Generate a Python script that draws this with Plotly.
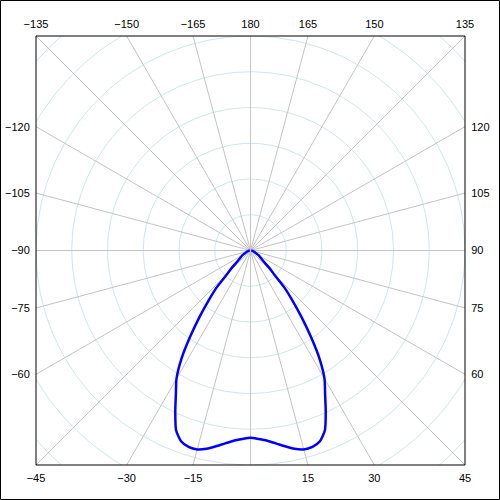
import numpy as np
import plotly.graph_objects as go

# C-plane angles (deg, 0 = straight down) and luminous intensity (cd/klm)
C_ANGLES = [-90, -85, -80, -75, -70, -65, -60, -55, -50, -47.5, -45, -42.5, -40, -37.5,
            -35, -32.5, -30, -27.5, -25, -22.5, -20, -17.5, -15, -12.5, -10, -7.5, -5, -2.5,
            0, 2.5, 5, 7.5, 10, 12.5, 15, 17.5, 20, 22.5, 25, 27.5, 30, 32.5, 35, 37.5,
            40, 42.5, 45, 47.5, 50, 55, 60, 65, 70, 75, 80, 85, 90]
INTENSITY = [1, 2, 3, 4, 6, 8, 13, 17, 24, 34, 45, 70, 91, 117,
             147, 180, 207, 226, 249, 272, 284, 288, 288, 284, 278, 272, 267, 264,
             262, 264, 267, 272, 278, 284, 288, 288, 284, 272, 249, 226, 207, 180, 147, 117,
             91, 70, 45, 34, 24, 17, 13, 8, 6, 4, 3, 2, 1]

RINGS = [50, 100, 150, 200, 250, 300, 350, 400]
SPOKES = list(range(-180, 180, 15))
HALF = 300

BOTTOM_TICKS = [-45, -30, -15, 0, 15, 30, 45]
TOP_TICKS = [-135, -150, -165, 180, 165, 150, 135]
LEFT_TICKS = [-120, -105, -90, -75, -60]
RIGHT_TICKS = [120, 105, 90, 75, 60]

SPOKE_COLOR = "#c4c4c4"
RING_COLOR = "#cfe6ec"
CURVE_COLOR = "#0000ff"


def to_xy(r, deg):
    t = np.radians(deg)
    return r * np.sin(t), -r * np.cos(t)


def lbl(v, skip=()):
    return "" if v in skip else str(v).replace("-", "\u2212")


fig = go.Figure()

# rings
phi = np.linspace(0, 360, 361)
for r in RINGS:
    x, y = to_xy(r, phi)
    fig.add_trace(go.Scatter(x=x, y=y, mode="lines", hoverinfo="skip",
                             line=dict(color=RING_COLOR, width=1), showlegend=False))

# spokes
for a in SPOKES:
    x, y = to_xy(np.array([0, 2 * HALF]), a)
    fig.add_trace(go.Scatter(x=x, y=y, mode="lines", hoverinfo="skip",
                             line=dict(color=SPOKE_COLOR, width=1), showlegend=False))

# intensity curve
cx, cy = to_xy(np.array(INTENSITY, dtype=float), np.array(C_ANGLES, dtype=float))
fig.add_trace(go.Scatter(x=cx, y=cy, mode="lines", name="I",
                         line=dict(color=CURVE_COLOR, width=2.5, shape="spline", smoothing=0.6),
                         showlegend=False))

# dummy trace to bring up top/right axes
fig.add_trace(go.Scatter(x=[None], y=[None], xaxis="x2", yaxis="y2", showlegend=False))

bottom_pos = [HALF * np.tan(np.radians(a)) for a in BOTTOM_TICKS]
top_pos = [HALF * np.tan(np.radians(180 - a)) if a > 0 else -HALF * np.tan(np.radians(180 + a))
           for a in TOP_TICKS]
left_pos = [HALF / np.tan(np.radians(a)) for a in LEFT_TICKS]
right_pos = [-HALF / np.tan(np.radians(a)) for a in RIGHT_TICKS]

font = dict(family="Liberation Sans, Arial, sans-serif", size=11, color="black")
common = dict(range=[-HALF, HALF], showgrid=False, zeroline=False, ticks="outside",
              ticklen=3, tickcolor="rgba(0,0,0,0)", tickfont=font, fixedrange=True,
              automargin=False)

fig.update_layout(
    width=500,
    height=500,
    margin=dict(l=36, r=35, t=36, b=35),
    paper_bgcolor="white",
    plot_bgcolor="white",
    xaxis=dict(common, tickvals=bottom_pos, ticktext=[lbl(a, (0,)) for a in BOTTOM_TICKS]),
    yaxis=dict(common, tickvals=left_pos, ticktext=[lbl(a) for a in LEFT_TICKS]),
    xaxis2=dict(common, overlaying="x", side="top", tickvals=top_pos,
                ticktext=[lbl(a) for a in TOP_TICKS]),
    yaxis2=dict(common, overlaying="y", side="right", tickvals=right_pos,
                ticktext=[lbl(a) for a in RIGHT_TICKS]),
    shapes=[
        dict(type="rect", xref="paper", yref="paper", x0=0, y0=0, x1=1, y1=1,
             line=dict(color="black", width=1)),
        dict(type="rect", xref="paper", yref="paper",
             x0=-35.5 / 429, x1=1 + 34.5 / 429, y0=-34.5 / 429, y1=1 + 35.5 / 429,
             line=dict(color="black", width=1)),
    ],
)

fig.write_html("out.html", config={"displayModeBar": False},
               post_script="document.body.style.margin='0';")
